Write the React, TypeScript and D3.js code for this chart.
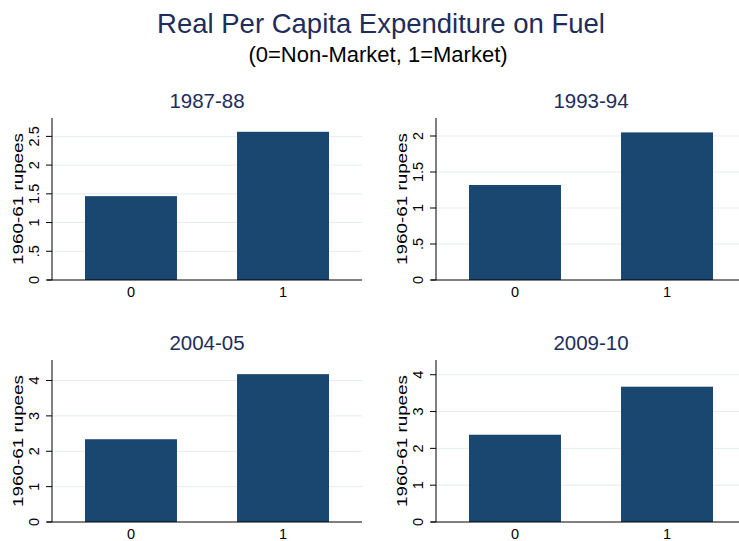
import { useEffect, useRef } from 'react';
import * as d3 from 'd3';

const years = ['1987-88', '1993-94', '2004-05', '2009-10'];
const categories = ['0', '1'];
const nonMarket = [1.46, 1.32, 2.34, 2.37];
const market = [2.58, 2.05, 4.18, 3.675];
const axisMax = [2.82, 2.25, 4.58, 4.4];
const yTicks = [
  [0, 0.5, 1, 1.5, 2, 2.5],
  [0, 0.5, 1, 1.5, 2],
  [0, 1, 2, 3, 4],
  [0, 1, 2, 3, 4],
];

const W = 739;
const H = 541;
const FONT = "'Liberation Sans', Arial, Helvetica, sans-serif";
const NAVY = '#1a476f';
const TITLE = '#1e2d5b';

// Stata style: ".5" instead of "0.5"
const fmt = (d: number) => (d === 0 ? '0' : String(d).replace(/^0\./, '.'));

export default function App() {
  const svgRef = useRef<SVGSVGElement>(null);

  useEffect(() => {
    if (!svgRef.current) return;
    const svg = d3.select(svgRef.current);
    svg.selectAll('*').remove();

    svg.append('rect').attr('width', W).attr('height', H).attr('fill', '#fff');

    svg.append('text')
      .attr('x', 381).attr('y', 33)
      .attr('text-anchor', 'middle')
      .style('font-family', FONT).style('font-size', '27.5px')
      .style('fill', TITLE)
      .text('Real Per Capita Expenditure on Fuel');

    svg.append('text')
      .attr('x', 378).attr('y', 62)
      .attr('text-anchor', 'middle')
      .style('font-family', FONT).style('font-size', '22px')
      .style('fill', '#000')
      .text('(0=Non-Market, 1=Market)');

    const plotW = 310;
    const plotH = 162;
    const lefts = [52, 436];
    const tops = [118, 360];

    years.forEach((yr, i) => {
      const left = lefts[i % 2];
      const top = tops[Math.floor(i / 2)];
      const g = svg.append('g').attr('transform', `translate(${left},${top})`);

      const x = d3.scaleBand<string>()
        .domain(categories)
        .range([0, plotW])
        .paddingInner(0.395)
        .paddingOuter(0.217);
      const y = d3.scaleLinear().domain([0, axisMax[i]]).range([plotH, 0]);

      // gridlines
      g.selectAll('.grid')
        .data(yTicks[i].filter(t => t > 0))
        .enter()
        .append('line')
        .attr('x1', 0).attr('x2', plotW)
        .attr('y1', d => y(d)).attr('y2', d => y(d))
        .style('stroke', '#e4edf0').style('stroke-width', 1);

      const vals = [nonMarket[i], market[i]];
      g.selectAll('.bar')
        .data(vals)
        .enter()
        .append('rect')
        .attr('x', (_, j) => x(categories[j]) as number)
        .attr('width', x.bandwidth())
        .attr('y', d => y(d))
        .attr('height', d => plotH - y(d))
        .style('fill', NAVY);

      // axes
      g.append('line')
        .attr('x1', 0).attr('x2', 0).attr('y1', 0).attr('y2', plotH)
        .style('stroke', '#000').style('stroke-width', 1);
      g.append('line')
        .attr('x1', -5).attr('x2', plotW).attr('y1', plotH).attr('y2', plotH)
        .style('stroke', '#000').style('stroke-width', 1);

      g.selectAll('.tick')
        .data(yTicks[i])
        .enter()
        .append('line')
        .attr('x1', -6).attr('x2', 0)
        .attr('y1', d => y(d)).attr('y2', d => y(d))
        .style('stroke', '#000').style('stroke-width', 1);

      g.selectAll('.ylab')
        .data(yTicks[i])
        .enter()
        .append('text')
        .attr('transform', d => `translate(-13,${y(d)}) rotate(-90)`)
        .attr('text-anchor', 'middle')
        .style('font-family', FONT).style('font-size', '14.5px')
        .style('fill', '#000')
        .text(d => fmt(d));

      g.append('text')
        .attr('transform', `translate(-29,${plotH / 2}) rotate(-90)`)
        .attr('text-anchor', 'middle')
        .attr('textLength', 132)
        .attr('lengthAdjust', 'spacingAndGlyphs')
        .style('font-family', FONT).style('font-size', '15.5px')
        .style('fill', '#000')
        .text('1960-61 rupees');

      g.selectAll('.xlab')
        .data(categories)
        .enter()
        .append('text')
        .attr('x', d => (x(d) as number) + x.bandwidth() / 2)
        .attr('y', plotH + 17)
        .attr('text-anchor', 'middle')
        .style('font-family', FONT).style('font-size', '14.5px')
        .style('fill', '#000')
        .text(d => d);

      g.append('text')
        .attr('x', plotW / 2)
        .attr('y', -10)
        .attr('text-anchor', 'middle')
        .style('font-family', FONT).style('font-size', '20.5px')
        .style('fill', TITLE)
        .text(yr);
    });
  }, []);

  return (
    <div style={{ position: 'absolute', left: 0, top: 0 }}>
      <svg ref={svgRef} width={W} height={H} style={{ display: 'block' }} />
    </div>
  );
}
